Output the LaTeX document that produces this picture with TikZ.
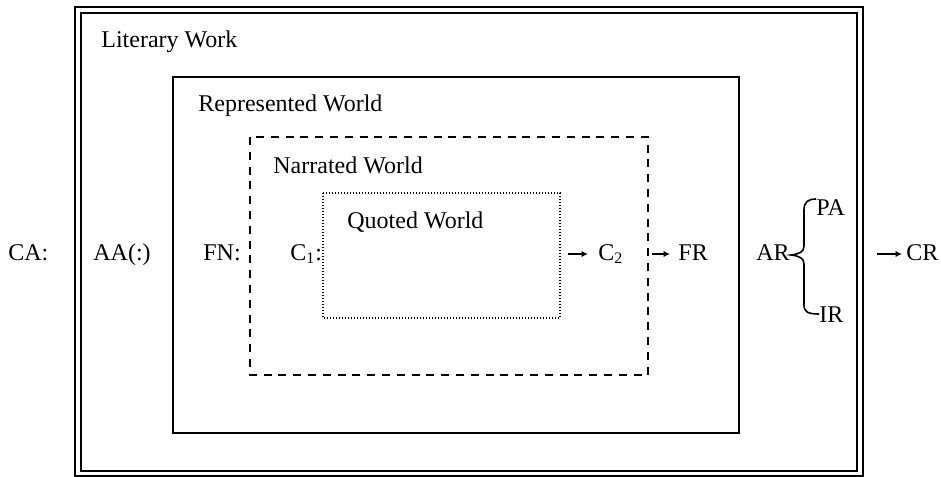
\documentclass[tikz,border=0pt]{standalone}
\usepackage{fontspec}
\setmainfont{Liberation Serif}
\usetikzlibrary{arrows.meta}
\begin{document}
\begin{tikzpicture}[x=0.5pt,y=-0.5pt,
  every node/.style={font=\fontsize{12}{14}\selectfont,inner sep=0pt,anchor=base west},
  frameline/.style={line width=1pt},
  solidbox/.style={line width=1.2pt},
  dashbox/.style={line width=1pt,dash pattern=on 4pt off 3.4pt},
  dotbox/.style={line width=0.65pt,dash pattern=on 0.6pt off 0.9pt},
  arr/.style={line width=0.7pt,-{Latex[length=3.2pt,width=3.2pt]}},
  bracepath/.style={line width=0.8pt}]
\useasboundingbox (0,0) rectangle (941,476);
% frames
\draw[frameline] (74.5,7) rectangle (862.5,475.5);
\draw[frameline] (80.5,13) rectangle (856.5,470.5);
\draw[solidbox] (173,77) rectangle (739,433);
\draw[dashbox] (250,137) rectangle (648,375);
\draw[dotbox] (323,193) rectangle (560,318);
% titles
\node (lw) at (101,48) {Literary Work};
\node (rw) at (198,112) {Represented World};
\node (nw) at (273,173) {Narrated World};
\node (qw) at (347,228) {Quoted World};
% row labels
\node (ca) at (8,260) {CA:};
\node (aa) at (93,260) {AA(:)};
\node (fn) at (203,260) {FN:};
\node (c1) at (290,260) {C\textsubscript{1}:};
\node (c2) at (598,260) {C\textsubscript{2}};
\node (fr) at (678,260) {FR};
\node (ar) at (756,260) {AR};
\node (pa) at (816,215) {PA};
\node (ir) at (819,322) {IR};
\node (cr) at (906,260) {CR};
% arrows
\coordinate (c2s) at (568,254);
\coordinate (frs) at (652,254);
\coordinate (crs) at (877,254);
\draw[arr] (c2s) -- ([xshift=-5pt]c2s -| c2.west);
\draw[arr] (frs) -- ([xshift=-4pt]frs -| fr.west);
\draw[arr] (crs) -- ([xshift=-2pt]crs -| cr.west);
% brace
\coordinate (btip) at (791,255);
\draw[bracepath] (pa.west |- 0,199) .. controls (808,199) and (804,202) .. (804,210)
  -- (804,246) .. controls (804,252) and (799,254) .. (btip)
  .. controls (799,256) and (804,258) .. (804,264)
  -- (804,305) .. controls (804,312) and (808,314) .. (ir.west |- 0,314);
\end{tikzpicture}
\end{document}
